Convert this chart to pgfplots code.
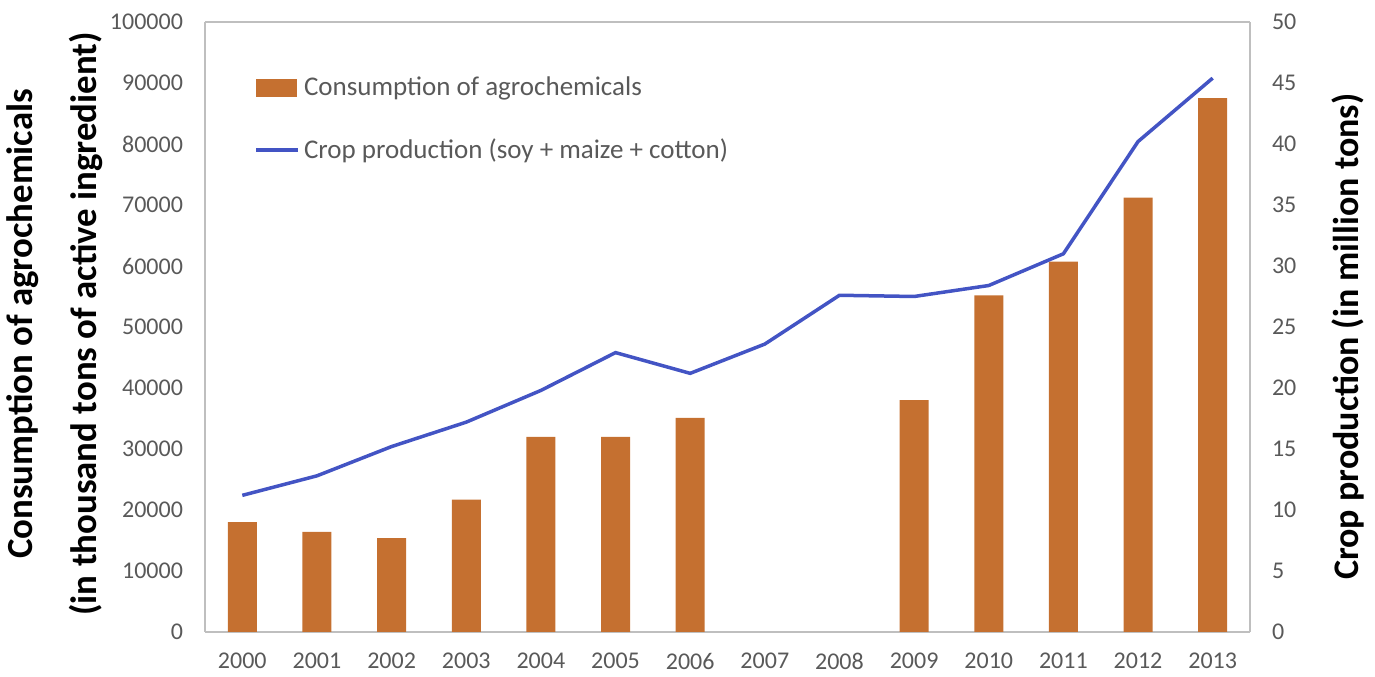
\documentclass[border=0pt]{standalone}
\usepackage{fontspec}
\setmainfont{Carlito}
\usepackage{pgfplots}
\pgfplotsset{compat=1.18}
\definecolor{barorange}{RGB}{197,112,48}
\definecolor{lineblue}{RGB}{67,84,196}
\definecolor{tickgray}{RGB}{89,89,89}
\definecolor{boxgray}{RGB}{191,191,191}
\begin{document}
\begin{tikzpicture}
\pgfplotsset{
  common/.style={
    scale only axis, width=522.5pt, height=305pt,
    xmin=-0.5, xmax=13.5,
    axis line style={boxgray, line width=0.75pt},
    tick style={draw=none},
    ticklabel style={font=\fontsize{12}{14}\selectfont, text=tickgray},
    /pgf/number format/assume math mode=true,
    /pgf/number format/1000 sep={},
  }
}
\begin{axis}[common,
  axis y line*=left, axis x line*=box,
  ymin=0, ymax=100000, ytick={0,10000,...,100000},
  scaled y ticks=false,
  yticklabel style={/pgf/number format/fixed, xshift=-7.5pt},
  xtick={0,...,13},
  xticklabels={2000,2001,2002,2003,2004,2005,2006,2007,2008,2009,2010,2011,2012,2013},
  xticklabel style={yshift=-7pt},
  ylabel={\bfseries\begin{tabular}{@{}c@{}}Consumption of agrochemicals\\[10pt](in thousand tons of active ingredient)\end{tabular}},
  ylabel style={font=\fontsize{18.4}{22}\selectfont, at={(axis description cs:-0.0905,0.505)}, anchor=south, inner sep=0pt},
]
\addplot[ybar, bar width=14.5pt, fill=barorange, draw=none] coordinates {
(0,18000) (1,16400) (2,15400) (3,21700) (4,32000) (5,32000) (6,35100)
(9,38000) (10,55200) (11,60700) (12,71200) (13,87500)};
\end{axis}
\begin{axis}[common,
  axis y line*=right, axis x line=none,
  ymin=0, ymax=50, ytick={0,5,...,50},
  yticklabel style={xshift=7.5pt},
  ylabel={\bfseries Crop production (in million tons)},
  ylabel style={font=\fontsize{18}{21}\selectfont, at={(axis description cs:1.078,0.484)}, anchor=north, inner sep=0pt},
  legend style={draw=none, fill=none, at={(0.047,0.917)}, anchor=north west,
    font=\fontsize{13.5}{16}\selectfont, text=tickgray, row sep=16pt,
    inner sep=0pt},
  legend cell align=left,
]
\addlegendimage{legend image code/.code={\fill[barorange] (0pt,-4.25pt) rectangle (20pt,4.25pt);}}
\addlegendentry{Consumption of agrochemicals}
\addplot[lineblue, line width=1.75pt, legend image code/.code={\draw[lineblue, line width=1.75pt] (0pt,0pt) -- (21pt,0pt);}] coordinates {
(0,11.2) (1,12.8) (2,15.2) (3,17.2) (4,19.8) (5,22.9) (6,21.2)
(7,23.6) (8,27.6) (9,27.5) (10,28.4) (11,31.0) (12,40.2) (13,45.4)};
\addlegendentry{Crop production (soy + maize + cotton)}
\end{axis}
\path ([shift={(-102.5pt,-20.5pt)}]current axis.south west) rectangle ([shift={(62.5pt,11pt)}]current axis.north east);
\end{tikzpicture}
\end{document}
